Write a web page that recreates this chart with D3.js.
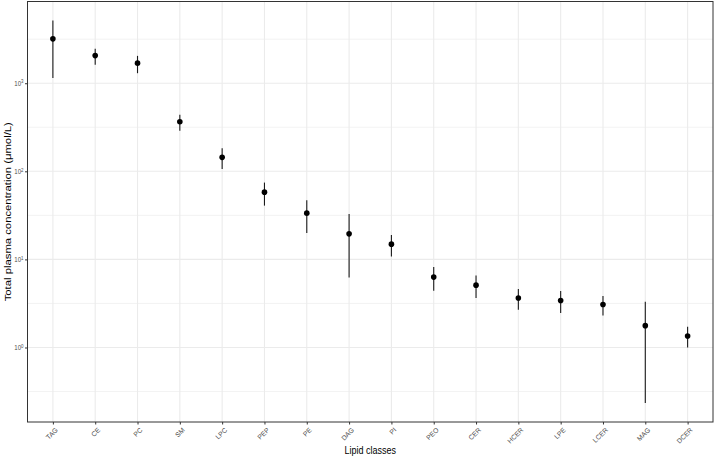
<!DOCTYPE html>
<html>
<head>
<meta charset="utf-8">
<script src="https://cdn.jsdelivr.net/npm/d3@7/dist/d3.min.js"></script>
<style>
  html, body { margin: 0; padding: 0; background: #fff; }
  svg { display: block; font-family: "Liberation Sans", Arial, Helvetica, sans-serif; }
</style>
</head>
<body>
<svg id="chart" width="715" height="459"></svg>
<script>
// ---- data ----
const categories = ["TAG","CE","PC","SM","LPC","PEP","PE","DAG","PI","PEO","CER","HCER","LPE","LCER","MAG","DCER"];
const meanValues = [3190, 2060, 1690, 366, 144, 58, 33.5, 19.5, 14.9, 6.3, 5.1, 3.64, 3.42, 3.08, 1.77, 1.35];
const upperValues = [5140, 2470, 2045, 440, 183, 74.5, 47, 32.7, 18.9, 8.2, 6.56, 4.6, 4.37, 3.84, 3.3, 1.72];
const lowerValues = [1150, 1626, 1300, 289, 106, 40.8, 19.9, 6.24, 10.8, 4.4, 3.64, 2.68, 2.46, 2.31, 0.235, 1.0];
const yMajorExponents = [0, 1, 2, 3];
const yMinorExponents = [-0.5, 0.5, 1.5, 2.5, 3.5];
const xTitle = "Lipid classes";
const yTitle = "Total plasma concentration (\u03bcmol/L)";

const data = categories.map((c, i) => ({cat: c, mean: meanValues[i], lo: lowerValues[i], hi: upperValues[i]}));

// ---- layout ----
const panel = {left: 27.5, right: 713, top: 1.5, bottom: 422};
const svg = d3.select("#chart");

// log scale with ggplot-like 5% expansion
const lmin = Math.log10(d3.min(lowerValues)), lmax = Math.log10(d3.max(upperValues));
const ex = (lmax - lmin) * 0.05;
const y = d3.scaleLog().domain([Math.pow(10, lmin - ex), Math.pow(10, lmax + ex)]).range([panel.bottom, panel.top]);
const x = d3.scalePoint().domain(categories).range([panel.left, panel.right]).padding(0.6);

const grid = svg.append("g");
grid.selectAll("line.ymin").data(yMinorExponents).join("line")
  .attr("x1", panel.left).attr("x2", panel.right)
  .attr("y1", d => y(Math.pow(10, d))).attr("y2", d => y(Math.pow(10, d)))
  .attr("stroke", "#ebebeb").attr("stroke-width", 0.6);
grid.selectAll("line.ymaj").data(yMajorExponents).join("line")
  .attr("x1", panel.left).attr("x2", panel.right)
  .attr("y1", d => y(Math.pow(10, d))).attr("y2", d => y(Math.pow(10, d)))
  .attr("stroke", "#ebebeb").attr("stroke-width", 1.1);
grid.selectAll("line.xmaj").data(categories).join("line")
  .attr("x1", d => x(d)).attr("x2", d => x(d))
  .attr("y1", panel.top).attr("y2", panel.bottom)
  .attr("stroke", "#ebebeb").attr("stroke-width", 1.1);

// error bars
svg.append("g").selectAll("line").data(data).join("line")
  .attr("x1", d => x(d.cat)).attr("x2", d => x(d.cat))
  .attr("y1", d => y(d.lo)).attr("y2", d => y(d.hi))
  .attr("stroke", "#1a1a1a").attr("stroke-width", 1.1);

// points
svg.append("g").selectAll("circle").data(data).join("circle")
  .attr("cx", d => x(d.cat)).attr("cy", d => y(d.mean))
  .attr("r", 2.8).attr("fill", "#000");

// panel border
svg.append("rect").attr("x", panel.left).attr("y", panel.top)
  .attr("width", panel.right - panel.left).attr("height", panel.bottom - panel.top)
  .attr("fill", "none").attr("stroke", "#333333").attr("stroke-width", 1);

// y axis (ticks via d3 axis, labels drawn separately)
const yTicks = yMajorExponents.map(e => Math.pow(10, e));
const yAxisG = svg.append("g").attr("transform", `translate(${panel.left},0)`);
yAxisG.call(d3.axisLeft(y).tickValues(yTicks).tickSize(2.5).tickFormat(() => ""));
yAxisG.select(".domain").remove();
yAxisG.selectAll(".tick text").remove();
yAxisG.selectAll(".tick line").attr("stroke", "#333333").attr("stroke-width", 1);

const yLab = svg.append("g").selectAll("text").data(yTicks).join("text")
  .attr("transform", d => `translate(${panel.left - 4},${y(d)}) scale(0.85,1)`)
  .attr("dy", "0.35em")
  .attr("text-anchor", "end").attr("fill", "#4d4d4d")
  .style("font-size", "7.2px");
yLab.append("tspan").text("10");
yLab.append("tspan").attr("dy", "-0.45em").style("font-size", "5.2px").text(d => Math.round(Math.log10(d)));

// x axis
const xAxisG = svg.append("g").attr("transform", `translate(0,${panel.bottom})`);
xAxisG.call(d3.axisBottom(x).tickSize(2.5).tickFormat(() => ""));
xAxisG.select(".domain").remove();
xAxisG.selectAll(".tick text").remove();
xAxisG.selectAll(".tick line").attr("stroke", "#333333").attr("stroke-width", 1);

// rotated category labels (45 degrees, right end at the tick)
svg.append("g").selectAll("text").data(categories).join("text")
  .attr("transform", d => `translate(${x(d) + 2},${panel.bottom + 5}) rotate(-45)`)
  .attr("dy", "0.72em")
  .attr("text-anchor", "end").attr("fill", "#4d4d4d")
  .style("font-size", "6.8px")
  .text(d => d);

// axis titles
svg.append("text").attr("transform", `translate(${(panel.left + panel.right) / 2},454) scale(0.82,1)`)
  .attr("text-anchor", "middle").attr("fill", "#000").style("font-size", "11px").text(xTitle);
svg.append("text").attr("transform", `translate(11,${(panel.top + panel.bottom) / 2}) scale(0.82,1) rotate(-90)`)
  .attr("text-anchor", "middle").attr("fill", "#000").style("font-size", "11.3px").text(yTitle);
</script>
</body>
</html>
